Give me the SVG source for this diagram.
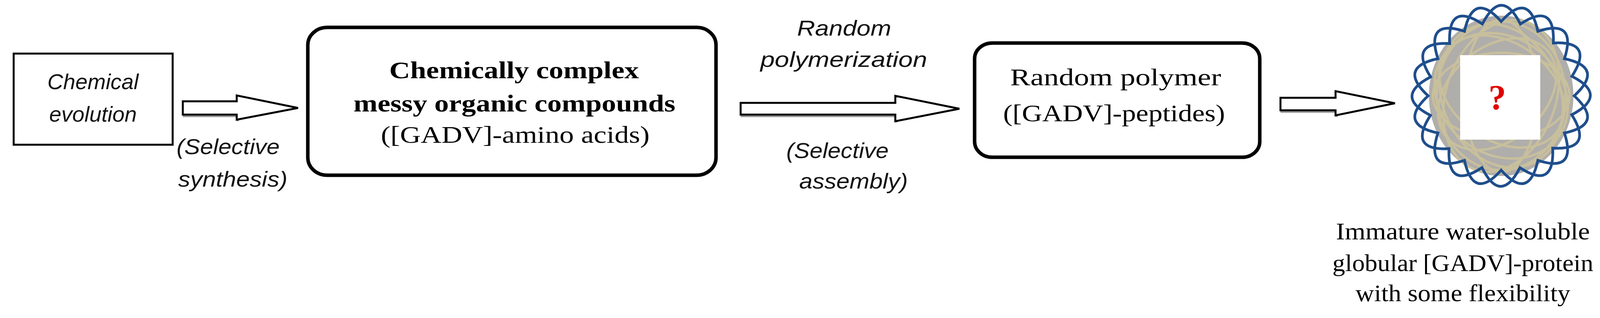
<svg xmlns="http://www.w3.org/2000/svg" width="4293" height="813" viewBox="0 0 4293 813">
<style>
.box{fill:#fff;stroke:#000}
.arr{fill:#fff;stroke:#000;stroke-width:5;stroke-linejoin:miter}
.sh{fill:none;stroke:#9a9a9a;stroke-width:5}
.it{font-family:"Liberation Sans",sans-serif;font-style:italic;font-size:56px;fill:#111;text-anchor:middle}
.sr{font-family:"Liberation Serif",serif;font-size:62px;fill:#000;text-anchor:middle}
.b{font-weight:bold}
</style>
<rect width="4293" height="813" fill="#fff"/>
<g id="n1">
<rect class="box" x="35" y="137" width="407" height="233" stroke-width="5"/>
<text class="it" x="238" y="228">Chemical</text>
<text class="it" x="238" y="311">evolution</text>
</g>
<g id="n2">
<rect class="box" x="788" y="70" width="1045" height="378" rx="50" ry="45" stroke-width="9"/>
<text class="sr b" x="1316" y="200" textLength="639" lengthAdjust="spacingAndGlyphs">Chemically complex</text>
<text class="sr b" x="1317" y="285" textLength="824" lengthAdjust="spacingAndGlyphs">messy organic compounds</text>
<text class="sr" x="1319" y="365" textLength="688" lengthAdjust="spacingAndGlyphs">([GADV]-amino acids)</text>
</g>
<g id="n3">
<rect class="box" x="2495" y="110" width="730" height="292" rx="45" ry="40" stroke-width="9"/>
<text class="sr" x="2856" y="218" textLength="540" lengthAdjust="spacingAndGlyphs">Random polymer</text>
<text class="sr" x="2852" y="310" textLength="568" lengthAdjust="spacingAndGlyphs">([GADV]-peptides)</text>
</g>
<g id="n4">
<ellipse cx="3843" cy="245" rx="185" ry="205" fill="#b0aeaa"/>
<g fill="none" stroke="#cdc39a" stroke-width="6" opacity="0.85">
<ellipse cx="3843" cy="245" rx="165" ry="190"/>
<ellipse cx="3843" cy="245" rx="140" ry="200" transform="rotate(20 3843 245)"/>
<ellipse cx="3843" cy="245" rx="150" ry="190" transform="rotate(-25 3843 245)"/>
<ellipse cx="3833" cy="250" rx="120" ry="170" transform="rotate(50 3843 245)"/>
<ellipse cx="3853" cy="240" rx="125" ry="175" transform="rotate(-55 3843 245)"/>
<ellipse cx="3843" cy="245" rx="95" ry="195"/>
<ellipse cx="3843" cy="245" rx="175" ry="110"/>
<ellipse cx="3843" cy="245" rx="180" ry="150" transform="rotate(35 3843 245)"/>
</g>
<g fill="none" stroke="#1f4e8c" stroke-width="7" transform="translate(-7 0)">
<path d="M4037,245 Q4116,318 4012,340 Q4045,443 3944,410 Q3921,515 3850,435 Q3779,515 3756,410 Q3655,443 3688,340 Q3584,318 3663,245 Q3584,172 3688,150 Q3655,47 3756,80 Q3779,-25 3850,55 Q3921,-25 3944,80 Q4045,47 4012,150 Q4116,172 4037,245 Z"/>
<path d="M4037,245 Q4116,318 4012,340 Q4045,443 3944,410 Q3921,515 3850,435 Q3779,515 3756,410 Q3655,443 3688,340 Q3584,318 3663,245 Q3584,172 3688,150 Q3655,47 3756,80 Q3779,-25 3850,55 Q3921,-25 3944,80 Q4045,47 4012,150 Q4116,172 4037,245 Z" transform="rotate(15 3850 245)"/>
</g>
<rect x="3738" y="141" width="205" height="216" fill="#fff"/>
<text x="3833" y="280" font-family="Liberation Serif,serif" font-size="90" font-weight="bold" fill="#e00000" text-anchor="middle">?</text>
<text class="sr" x="3745" y="612" font-size="58" textLength="650" lengthAdjust="spacingAndGlyphs">Immature water-soluble</text>
<text class="sr" x="3745" y="693" font-size="58" textLength="668" lengthAdjust="spacingAndGlyphs">globular [GADV]-protein</text>
<text class="sr" x="3745" y="770" font-size="58" textLength="550" lengthAdjust="spacingAndGlyphs">with some flexibility</text>
</g>
<g id="connectors">
<polyline class="sh" points="468,297 609,297 609,310"/>
<polygon class="arr" points="468,259 606,259 606,244 763,276 606,306 606,293 468,293"/>
<polyline class="sh" points="1896,297 2295,297 2295,313"/>
<polygon class="arr" points="1896,263 2292,263 2292,245 2456,278 2292,310 2292,293 1896,293"/>
<polyline class="sh" points="3278,286 3422,286 3422,299"/>
<polygon class="arr" points="3278,250 3419,250 3419,233 3571,264 3419,295 3419,282 3278,282"/>
<text class="it" x="584" y="394" textLength="264" lengthAdjust="spacingAndGlyphs">(Selective</text>
<text class="it" x="596" y="477" textLength="280" lengthAdjust="spacingAndGlyphs">synthesis)</text>
<text class="it" x="2161" y="91" textLength="241" lengthAdjust="spacingAndGlyphs">Random</text>
<text class="it" x="2160" y="171" textLength="427" lengthAdjust="spacingAndGlyphs">polymerization</text>
<text class="it" x="2144" y="404" textLength="262" lengthAdjust="spacingAndGlyphs">(Selective</text>
<text class="it" x="2185" y="482" textLength="278" lengthAdjust="spacingAndGlyphs">assembly)</text>
</g>
</svg>
